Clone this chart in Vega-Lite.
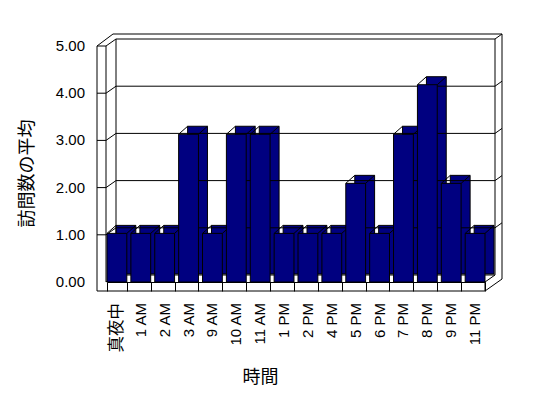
{
  "$schema": "https://vega.github.io/schema/vega-lite/v6.json",
  "width": 378,
  "height": 236,
  "autosize": {"type": "none"},
  "padding": {"left": 107, "top": 46, "right": 63, "bottom": 116},
  "background": "white",
  "config": {
    "view": {"stroke": null},
    "axis": {"titleFont": "Noto Sans CJK JP", "titleFontSize": 18, "titleFontWeight": "normal", "titleColor": "black",
             "domainColor": "black", "tickColor": "black", "grid": false, "labels": false},
    "axisX": {"tickBand": "extent", "tickSize": 9, "titleX": 153, "titleY": 95, "titleBaseline": "middle", "titleAlign": "center"},
    "axisY": {"ticks": false, "tickSize": 0, "domain": false,
              "titleX": -70, "titleY": 127, "titleBaseline": "middle", "titleAlign": "center", "titleAngle": -90}
  },
  "datasets": {
    "visits": [
      {"hour": "真夜中", "avg": 1.03},
      {"hour": "1 AM", "avg": 1.03},
      {"hour": "2 AM", "avg": 1.03},
      {"hour": "3 AM", "avg": 3.13},
      {"hour": "9 AM", "avg": 1.03},
      {"hour": "10 AM", "avg": 3.13},
      {"hour": "11 AM", "avg": 3.13},
      {"hour": "1 PM", "avg": 1.03},
      {"hour": "2 PM", "avg": 1.03},
      {"hour": "4 PM", "avg": 1.03},
      {"hour": "5 PM", "avg": 2.09},
      {"hour": "6 PM", "avg": 1.03},
      {"hour": "7 PM", "avg": 3.13},
      {"hour": "8 PM", "avg": 4.18},
      {"hour": "9 PM", "avg": 2.09},
      {"hour": "11 PM", "avg": 1.03}
    ],
    "levels": [{"v": 0}, {"v": 1}, {"v": 2}, {"v": 3}, {"v": 4}, {"v": 5}],
    "upper": [{"v": 1}, {"v": 2}, {"v": 3}, {"v": 4}, {"v": 5}],
    "one": [{"k": 1}]
  },
  "layer": [
    {
      "data": {"name": "visits"},
      "mark": {"type": "bar", "fill": "#000080", "stroke": "black", "strokeWidth": 1, "xOffset": 9, "x2Offset": 9, "yOffset": -8, "y2Offset": -8},
      "encoding": {
        "x": {"field": "hour", "type": "nominal", "sort": null,
              "scale": {"type": "band", "domain": ["真夜中","1 AM","2 AM","3 AM","9 AM","10 AM","11 AM","1 PM","2 PM","4 PM","5 PM","6 PM","7 PM","8 PM","9 PM","11 PM"], "paddingInner": 0.17, "paddingOuter": 0},
              "axis": {"title": "時間"}},
        "y": {"field": "avg", "type": "quantitative", "scale": {"domain": [0, 5], "nice": false},
              "axis": {"title": "訪問数の平均", "values": [0, 1, 2, 3, 4, 5], "offset": 10}}
      }
    },
    {
      "data": {"name": "levels"},
      "mark": {"type": "rule", "color": "black", "strokeWidth": 1, "xOffset": 9, "x2Offset": 10, "yOffset": -7, "y2Offset": -7},
      "encoding": {
        "x": {"datum": "真夜中", "type": "nominal", "bandPosition": 0},
        "x2": {"datum": "11 PM", "bandPosition": 1},
        "y": {"field": "v", "type": "quantitative"}
      }
    },
    {
      "data": {"name": "one"},
      "mark": {"type": "rule", "color": "black", "strokeWidth": 1, "xOffset": 9, "yOffset": -7, "y2Offset": -7},
      "encoding": {
        "x": {"datum": "真夜中", "type": "nominal", "bandPosition": 0},
        "y": {"datum": 0, "type": "quantitative"},
        "y2": {"datum": 5}
      }
    },
    {
      "data": {"name": "one"},
      "mark": {"type": "rule", "color": "black", "strokeWidth": 1, "xOffset": 10, "yOffset": -7, "y2Offset": -7},
      "encoding": {
        "x": {"datum": "11 PM", "type": "nominal", "bandPosition": 1},
        "y": {"datum": 0, "type": "quantitative"},
        "y2": {"datum": 5}
      }
    },
    {
      "data": {"name": "one"},
      "mark": {"type": "rule", "color": "black", "strokeWidth": 1, "xOffset": 17, "yOffset": -3, "y2Offset": -12},
      "encoding": {
        "x": {"datum": "11 PM", "type": "nominal", "bandPosition": 1},
        "y": {"datum": 0, "type": "quantitative"},
        "y2": {"datum": 5}
      }
    },
    {
      "data": {"name": "one"},
      "mark": {"type": "rule", "color": "black", "strokeWidth": 1, "xOffset": 6, "x2Offset": 17, "yOffset": -12},
      "encoding": {
        "x": {"datum": "真夜中", "type": "nominal", "bandPosition": 0},
        "x2": {"datum": "11 PM", "bandPosition": 1},
        "y": {"datum": 5, "type": "quantitative"}
      }
    },
    {
      "data": {"name": "one"},
      "mark": {"type": "rule", "color": "black", "strokeWidth": 1, "xOffset": -10, "y2Offset": 9},
      "encoding": {
        "x": {"datum": "真夜中", "type": "nominal", "bandPosition": 0},
        "y": {"datum": 5, "type": "quantitative"},
        "y2": {"datum": 0}
      }
    },
    {
      "data": {"name": "one"},
      "mark": {"type": "rule", "color": "black", "strokeWidth": 1, "xOffset": -1},
      "encoding": {
        "x": {"datum": "真夜中", "type": "nominal", "bandPosition": 0},
        "y": {"datum": 5, "type": "quantitative"},
        "y2": {"datum": 0}
      }
    },
    {
      "data": {"name": "upper"},
      "mark": {"type": "rule", "color": "black", "strokeWidth": 1, "xOffset": -10, "x2Offset": -1},
      "encoding": {
        "x": {"datum": "真夜中", "type": "nominal", "bandPosition": 0},
        "x2": {"datum": "真夜中", "bandPosition": 0},
        "y": {"field": "v", "type": "quantitative"}
      }
    },
    {
      "data": {"name": "levels"},
      "mark": {"type": "rule", "color": "black", "strokeWidth": 1, "xOffset": -1, "x2Offset": 9, "y2Offset": -7},
      "encoding": {
        "x": {"datum": "真夜中", "type": "nominal", "bandPosition": 0},
        "x2": {"datum": "真夜中", "bandPosition": 0},
        "y": {"field": "v", "type": "quantitative"},
        "y2": {"field": "v"}
      }
    },
    {
      "data": {"name": "one"},
      "mark": {"type": "rule", "color": "black", "strokeWidth": 1, "xOffset": -10, "x2Offset": 6, "y2Offset": -12},
      "encoding": {
        "x": {"datum": "真夜中", "type": "nominal", "bandPosition": 0},
        "x2": {"datum": "真夜中", "bandPosition": 0},
        "y": {"datum": 5, "type": "quantitative"},
        "y2": {"datum": 5}
      }
    },
    {
      "data": {"name": "upper"},
      "mark": {"type": "rule", "color": "black", "strokeWidth": 1, "xOffset": 10, "x2Offset": 17, "yOffset": -7, "y2Offset": -12},
      "encoding": {
        "x": {"datum": "11 PM", "type": "nominal", "bandPosition": 1},
        "x2": {"datum": "11 PM", "bandPosition": 1},
        "y": {"field": "v", "type": "quantitative"},
        "y2": {"field": "v"}
      }
    },
    {
      "data": {"name": "one"},
      "mark": {"type": "rule", "color": "black", "strokeWidth": 1, "xOffset": -10, "yOffset": 9},
      "encoding": {
        "x": {"datum": "真夜中", "type": "nominal", "bandPosition": 0},
        "x2": {"datum": "11 PM", "bandPosition": 1},
        "y": {"datum": 0, "type": "quantitative"}
      }
    },
    {
      "data": {"name": "one"},
      "mark": {"type": "rule", "color": "black", "strokeWidth": 1, "x2Offset": 17, "yOffset": 9, "y2Offset": -3},
      "encoding": {
        "x": {"datum": "11 PM", "type": "nominal", "bandPosition": 1},
        "x2": {"datum": "11 PM", "bandPosition": 1},
        "y": {"datum": 0, "type": "quantitative"},
        "y2": {"datum": 0}
      }
    },
    {
      "data": {"name": "one"},
      "mark": {"type": "rule", "color": "black", "strokeWidth": 1, "x2Offset": 10, "y2Offset": -7},
      "encoding": {
        "x": {"datum": "11 PM", "type": "nominal", "bandPosition": 1},
        "x2": {"datum": "11 PM", "bandPosition": 1},
        "y": {"datum": 0, "type": "quantitative"},
        "y2": {"datum": 0}
      }
    },
    {
      "data": {"name": "one"},
      "mark": {"type": "rule", "color": "black", "strokeWidth": 1, "y2Offset": 9},
      "encoding": {
        "x": {"datum": "11 PM", "type": "nominal", "bandPosition": 1},
        "y": {"datum": 0, "type": "quantitative"},
        "y2": {"datum": 0}
      }
    },
    {
      "data": {"name": "visits"},
      "mark": {"type": "rule", "color": "black", "strokeWidth": 1, "x2Offset": 9, "y2Offset": -8},
      "encoding": {
        "x": {"field": "hour", "type": "nominal", "sort": null, "bandPosition": 0},
        "x2": {"field": "hour", "bandPosition": 0},
        "y": {"field": "avg", "type": "quantitative"},
        "y2": {"field": "avg"}
      }
    },
    {
      "data": {"name": "visits"},
      "mark": {"type": "rule", "color": "black", "strokeWidth": 1, "x2Offset": 9, "y2Offset": -8},
      "encoding": {
        "x": {"field": "hour", "type": "nominal", "sort": null, "bandPosition": 1},
        "x2": {"field": "hour", "bandPosition": 1},
        "y": {"field": "avg", "type": "quantitative"},
        "y2": {"field": "avg"}
      }
    },
    {
      "data": {"name": "visits"},
      "mark": {"type": "bar", "fill": "#000080", "stroke": "black", "strokeWidth": 1},
      "encoding": {
        "x": {"field": "hour", "type": "nominal", "sort": null},
        "y": {"field": "avg", "type": "quantitative"}
      }
    },
    {
      "data": {"name": "levels"},
      "mark": {"type": "text", "font": "Liberation Sans", "fontSize": 15, "color": "black", "align": "right", "baseline": "middle", "xOffset": -22},
      "encoding": {
        "x": {"datum": "真夜中", "type": "nominal", "bandPosition": 0},
        "y": {"field": "v", "type": "quantitative"},
        "text": {"field": "v", "type": "quantitative", "format": ".2f"}
      }
    },
    {
      "data": {"name": "visits"},
      "mark": {"type": "text", "font": "Liberation Sans, Noto Sans CJK JP", "color": "black", "align": "right", "baseline": "middle", "angle": 270, "yOffset": 21},
      "encoding": {
        "x": {"field": "hour", "type": "nominal", "sort": null},
        "y": {"datum": 0, "type": "quantitative"},
        "text": {"field": "hour", "type": "nominal"},
        "size": {"condition": {"test": "datum.hour === '真夜中'", "value": 16.5}, "value": 15}
      }
    }
  ]
}
